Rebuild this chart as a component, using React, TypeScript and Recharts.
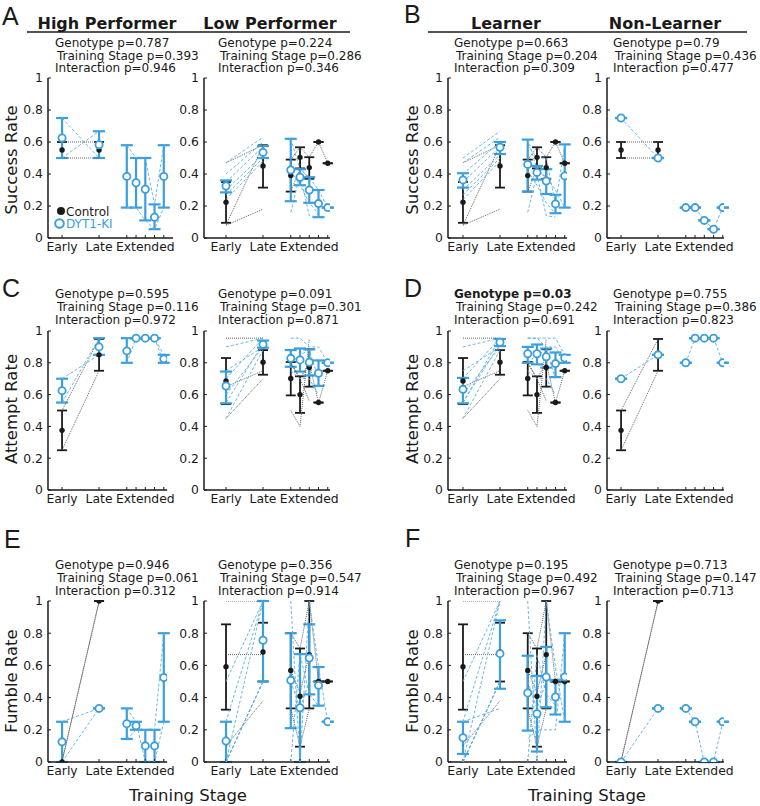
import React from "react";
import { ComposedChart, Scatter, XAxis, YAxis, ErrorBar } from "recharts";

type Vals = (number | null)[];
interface Group {
  mean: Vals;
  lo: Vals;
  hi: Vals;
}
interface PanelData {
  ctrl: Group;
  ki: Group;
  ctrlMice: Vals[];
  kiMice: Vals[];
}

const BLUE = "#3b9fdc";
const BLUE_THIN = "#5aaee3";
const INK = "#1a1a1a";
const FONT = "'DejaVu Sans', sans-serif";
const N = null;

// x positions: Early, Late and the five extended sessions
const STAGE_X = [1, 2, 2.75, 3, 3.25, 3.5, 3.75];
const STAGE_LABELS = ["Early", "Late", "", "", "Extended", "", ""];
const RATE_TICKS = [0, 0.2, 0.4, 0.6, 0.8, 1];

// a group with one animal has no spread
const single = (v: Vals): Group => ({ mean: v, lo: v, hi: v });

// ---- Success rate ----
const successHigh: PanelData = {
  ctrl: {
    mean: [0.55, 0.55, N, N, N, N, N],
    lo: [0.5, 0.5, N, N, N, N, N],
    hi: [0.6, 0.6, N, N, N, N, N],
  },
  ki: {
    mean: [0.625, 0.583, 0.385, 0.345, 0.305, 0.13, 0.385],
    lo: [0.5, 0.5, 0.19, 0.19, 0.11, 0.055, 0.19],
    hi: [0.75, 0.667, 0.58, 0.5, 0.5, 0.21, 0.58],
  },
  ctrlMice: [[0.6, 0.6], [0.5, 0.5]],
  kiMice: [
    [0.75, 0.5, 0.19, 0.19, 0.11, 0.055, 0.19],
    [0.5, 0.667, 0.58, 0.5, 0.5, 0.21, 0.58],
  ],
};

const successLow: PanelData = {
  ctrl: {
    mean: [0.223, 0.45, 0.39, 0.504, 0.44, 0.6, 0.467],
    lo: [0.095, 0.315, 0.29, 0.435, 0.37, 0.6, 0.467],
    hi: [0.35, 0.58, 0.49, 0.567, 0.505, 0.6, 0.467],
  },
  ki: {
    mean: [0.325, 0.535, 0.425, 0.38, 0.3, 0.215, 0.19],
    lo: [0.285, 0.5, 0.23, 0.33, 0.22, 0.13, 0.19],
    hi: [0.36, 0.575, 0.62, 0.43, 0.38, 0.3, 0.19],
  },
  ctrlMice: [
    [0.47, 0.58, 0.49, 0.567, 0.505, 0.6, 0.467],
    [0.08, 0.58, 0.29, 0.435, 0.37],
    [0.08, 0.18],
  ],
  kiMice: [
    [0.47, 0.63, 0.62, 0.43, 0.38, 0.3, 0.19],
    [0.4, 0.6, 0.16, 0.4, 0.14, 0.13],
    [0.35, 0.57, 0.42, 0.33, 0.22, 0.15],
    [0.3, 0.52],
    [0.27, 0.5],
    [0.24, 0.48],
  ],
};

const successLearner: PanelData = {
  ctrl: successLow.ctrl,
  ki: {
    mean: [0.363, 0.567, 0.46, 0.41, 0.356, 0.213, 0.388],
    lo: [0.315, 0.525, 0.29, 0.365, 0.275, 0.155, 0.19],
    hi: [0.405, 0.6, 0.615, 0.45, 0.43, 0.27, 0.585],
  },
  ctrlMice: successLow.ctrlMice,
  kiMice: [...successLow.kiMice, [0.5, 0.667, 0.58, 0.5, 0.5, 0.21, 0.58]],
};

const successNonLearner: PanelData = {
  ctrl: successHigh.ctrl,
  ki: single([0.75, 0.5, 0.19, 0.19, 0.11, 0.055, 0.19]),
  ctrlMice: successHigh.ctrlMice,
  kiMice: [[0.75, 0.5, 0.19, 0.19, 0.11, 0.055, 0.19]],
};

// ---- Attempt rate ----
const attemptHigh: PanelData = {
  ctrl: {
    mean: [0.375, 0.85, N, N, N, N, N],
    lo: [0.25, 0.75, N, N, N, N, N],
    hi: [0.5, 0.95, N, N, N, N, N],
  },
  ki: {
    mean: [0.625, 0.9, 0.875, 0.955, 0.955, 0.955, 0.825],
    lo: [0.55, 0.85, 0.8, 0.955, 0.955, 0.955, 0.8],
    hi: [0.7, 0.955, 0.955, 0.955, 0.955, 0.955, 0.85],
  },
  ctrlMice: [[0.5, 0.95], [0.25, 0.75]],
  kiMice: [
    [0.7, 0.85, 0.8, 0.955, 0.955, 0.955, 0.8],
    [0.55, 0.955, 0.955, 0.955, 0.955, 0.955, 0.85],
  ],
};

const attemptLow: PanelData = {
  ctrl: {
    mean: [0.686, 0.803, 0.702, 0.6, 0.77, 0.55, 0.75],
    lo: [0.54, 0.725, 0.595, 0.485, 0.65, 0.55, 0.75],
    hi: [0.83, 0.88, 0.805, 0.715, 0.885, 0.55, 0.75],
  },
  ki: {
    mean: [0.654, 0.916, 0.828, 0.818, 0.803, 0.734, 0.8],
    lo: [0.545, 0.895, 0.775, 0.745, 0.72, 0.655, 0.8],
    hi: [0.745, 0.94, 0.88, 0.89, 0.885, 0.815, 0.8],
  },
  ctrlMice: [
    [0.955, 0.955, 0.8, 0.7, 0.8, 0.55, 0.75],
    [0.65, 0.75, 0.8, 0.7, 0.56],
    [0.45, 0.7, 0.5, 0.4, 0.95],
  ],
  kiMice: [
    [0.9, 0.955, 0.955, 0.955, 0.9, 0.9, 0.8],
    [0.75, 0.9, 0.8, 0.85, 0.88, 0.7],
    [0.7, 0.955, 0.75, 0.7, 0.7, 0.6],
    [0.6, 0.9],
    [0.55, 0.92],
    [0.45, 0.88],
  ],
};

const attemptLearner: PanelData = {
  ctrl: attemptLow.ctrl,
  ki: {
    mean: [0.633, 0.929, 0.857, 0.857, 0.838, 0.795, 0.83],
    lo: [0.545, 0.905, 0.8, 0.79, 0.77, 0.71, 0.8],
    hi: [0.705, 0.95, 0.9, 0.915, 0.89, 0.865, 0.85],
  },
  ctrlMice: attemptLow.ctrlMice,
  kiMice: [...attemptLow.kiMice, [0.55, 0.955, 0.955, 0.955, 0.955, 0.955, 0.85]],
};

const attemptNonLearner: PanelData = {
  ctrl: attemptHigh.ctrl,
  ki: single([0.7, 0.85, 0.8, 0.955, 0.955, 0.955, 0.8]),
  ctrlMice: attemptHigh.ctrlMice,
  kiMice: [[0.7, 0.85, 0.8, 0.955, 0.955, 0.955, 0.8]],
};

// ---- Fumble rate ----
const fumbleHigh: PanelData = {
  ctrl: single([0, 1, N, N, N, N, N]),
  ki: {
    mean: [0.125, 0.333, 0.238, 0.225, 0.1, 0.1, 0.525],
    lo: [0, 0.333, 0.143, 0.2, 0, 0, 0.25],
    hi: [0.25, 0.333, 0.333, 0.25, 0.2, 0.2, 0.8],
  },
  ctrlMice: [[0, 1], [0.008, 0.992]],
  kiMice: [
    [0, 0.333, 0.333, 0.25, 0, 0, 0.25],
    [0.25, 0.333, 0.143, 0.2, 0.2, 0.2, 0.8],
  ],
};

const fumbleLow: PanelData = {
  ctrl: {
    mean: [0.592, 0.683, 0.569, 0.408, 0.667, 0.5, 0.5],
    lo: [0.325, 0.5, 0.333, 0.095, 0.333, 0.5, 0.5],
    hi: [0.855, 0.865, 0.8, 0.705, 1, 0.5, 0.5],
  },
  ki: {
    mean: [0.13, 0.756, 0.507, 0.337, 0.646, 0.476, 0.25],
    lo: [0, 0.5, 0.21, 0, 0.42, 0.35, 0.25],
    hi: [0.25, 1, 0.8, 0.67, 0.855, 0.59, 0.25],
  },
  ctrlMice: [
    [1, 1, 0.8, 0.705, 1, 0.5, 0.5],
    [0.667, 0.667, 0.333, 0.095, 0.333],
    [0.1, 0.38, 0.57, 0.43, 0.667],
  ],
  kiMice: [
    [0.5, 1, 1, 0, 1, 0.59, 0.25],
    [0.25, 1, 0, 0.67, 0.42, 0.35],
    [0, 0.5, 0.5, 0.333, 0.5, 0.5],
    [0, 1],
    [0, 0.5],
    [0, 0.5],
  ],
};

const fumbleLearner: PanelData = {
  ctrl: fumbleLow.ctrl,
  ki: {
    mean: [0.151, 0.673, 0.429, 0.3, 0.528, 0.404, 0.528],
    lo: [0.05, 0.455, 0.195, 0.065, 0.34, 0.295, 0.25],
    hi: [0.25, 0.88, 0.66, 0.535, 0.715, 0.51, 0.8],
  },
  ctrlMice: fumbleLow.ctrlMice,
  kiMice: [...fumbleLow.kiMice, [0.25, 0.333, 0.143, 0.2, 0.2, 0.2, 0.8]],
};

const fumbleNonLearner: PanelData = {
  ctrl: fumbleHigh.ctrl,
  ki: single([0, 0.333, 0.333, 0.25, 0, 0, 0.25]),
  ctrlMice: fumbleHigh.ctrlMice,
  kiMice: [[0, 0.333, 0.333, 0.25, 0, 0, 0.25]],
};

const PANELS: PanelData[][] = [
  [successHigh, successLow, successLearner, successNonLearner],
  [attemptHigh, attemptLow, attemptLearner, attemptNonLearner],
  [fumbleHigh, fumbleLow, fumbleLearner, fumbleNonLearner],
];

// ANOVA p-values, row by row, columns High / Low / Learner / Non-Learner
const GENOTYPE_P = [
  ["0.787", "0.224", "0.663", "0.79"],
  ["0.595", "0.091", "0.03", "0.755"],
  ["0.946", "0.356", "0.195", "0.713"],
];
const STAGE_P = [
  ["0.393", "0.286", "0.204", "0.436"],
  ["0.116", "0.301", "0.242", "0.386"],
  ["0.061", "0.547", "0.492", "0.147"],
];
const INTERACTION_P = [
  ["0.946", "0.346", "0.309", "0.477"],
  ["0.972", "0.871", "0.691", "0.823"],
  ["0.312", "0.914", "0.967", "0.713"],
];

const GROUP_TITLES = ["High Performer", "Low Performer", "Learner", "Non-Learner"];
const RATE_TITLES = ["Success Rate", "Attempt Rate", "Fumble Rate"];
const PANEL_LETTERS = ["A", "B", "C", "D", "E", "F"];

// layout
const PX_PER_STAGE = 37;
const Y_AXIS_W = 32;
const X_AXIS_H = 24;
const COL_AXIS_X = [48, 204, 448, 607];
const COL_TEXT_X = [55, 218, 454, 613];
const X_LO = [0.62, 0.405, 0.595, 0.62];
const X_HI = [
  [4.0, 3.81, 3.81, 3.78],
  [3.84, 3.81, 3.81, 3.78],
  [3.84, 3.81, 3.81, 3.78],
];
const ROW_TOP = [78, 331, 601];
const ROW_H = [160, 159, 161];
const ROW_P_BASE = [46.7, 298.3, 569];
const ROW_LABEL_Y = [160, 409, 681];
const LETTER_POS = [
  [2, 25],
  [404, 23],
  [2, 297],
  [404, 297],
  [4, 548],
  [405, 547],
];

function meanPoints(g: Group) {
  const pts: { x: number; y: number; err: number[] }[] = [];
  STAGE_X.forEach((x, i) => {
    const m = g.mean[i];
    if (m == null) return;
    const lo = g.lo[i] ?? m;
    const hi = g.hi[i] ?? m;
    pts.push({ x, y: m, err: [m - lo, hi - m] });
  });
  return pts;
}

// each animal is drawn as two pieces: Early-Late and the extended sessions
function mouseSegments(v: Vals) {
  const pick = (idx: number[]) =>
    idx
      .filter((i) => v[i] != null && v[i] !== undefined)
      .map((i) => ({ x: STAGE_X[i], y: v[i] as number }));
  return [pick([0, 1]), pick([2, 3, 4, 5, 6])].filter((s) => s.length > 1);
}

const NoMark = () => <g />;
const ControlDot = (p: any) => <circle cx={p.cx} cy={p.cy} r={2.7} fill={INK} />;
const KiRing = (p: any) => (
  <circle cx={p.cx} cy={p.cy} r={3.6} fill="#fff" stroke={BLUE} strokeWidth={1.8} />
);

function RatePanel({
  data,
  left,
  top,
  height,
  lo,
  hi,
}: {
  data: PanelData;
  left: number;
  top: number;
  height: number;
  lo: number;
  hi: number;
}) {
  const plotW = (hi - lo) * PX_PER_STAGE;
  const width = Y_AXIS_W + plotW + 10;
  const ctrlSegs = data.ctrlMice.flatMap(mouseSegments);
  const kiSegs = data.kiMice.flatMap(mouseSegments);

  return (
    <div style={{ position: "absolute", left: left - Y_AXIS_W, top: top - 10 }}>
      <ComposedChart
        width={width}
        height={height + 10 + X_AXIS_H}
        margin={{ top: 10, right: 10, bottom: 0, left: 0 }}
      >
        <XAxis
          type="number"
          dataKey="x"
          domain={[lo, hi]}
          allowDataOverflow
          ticks={STAGE_X}
          interval={0}
          tickFormatter={(v: number) => STAGE_LABELS[STAGE_X.indexOf(v)] ?? ""}
          height={X_AXIS_H}
          tickSize={-3}
          tickMargin={7}
          axisLine={{ stroke: INK, strokeWidth: 1.5 }}
          tickLine={{ stroke: INK, strokeWidth: 1 }}
          tick={{ fontSize: 12.4, fill: INK, fontFamily: FONT }}
        />
        <YAxis
          type="number"
          dataKey="y"
          domain={[0, 1]}
          allowDataOverflow
          ticks={RATE_TICKS}
          interval={0}
          width={Y_AXIS_W}
          tickSize={-3}
          tickMargin={8}
          axisLine={{ stroke: INK, strokeWidth: 1.5 }}
          tickLine={{ stroke: INK, strokeWidth: 1 }}
          tick={{ fontSize: 12.4, fill: INK, fontFamily: FONT }}
        />
        {ctrlSegs.map((seg, i) => (
          <Scatter
            key={`c${i}`}
            data={seg}
            shape={NoMark}
            line={{ stroke: "#555", strokeWidth: 0.9, strokeDasharray: "1 1" }}
            isAnimationActive={false}
          />
        ))}
        {kiSegs.map((seg, i) => (
          <Scatter
            key={`k${i}`}
            data={seg}
            shape={NoMark}
            line={{ stroke: BLUE_THIN, strokeWidth: 0.9, strokeDasharray: "3 2" }}
            isAnimationActive={false}
          />
        ))}
        <Scatter data={meanPoints(data.ctrl)} shape={ControlDot} isAnimationActive={false}>
          <ErrorBar dataKey="err" direction="y" width={5} stroke={INK} strokeWidth={1.8} />
        </Scatter>
        <Scatter data={meanPoints(data.ki)} shape={KiRing} isAnimationActive={false}>
          <ErrorBar dataKey="err" direction="y" width={6} stroke={BLUE} strokeWidth={2.2} />
        </Scatter>
      </ComposedChart>
    </div>
  );
}

function Annotations() {
  return (
    <svg
      width={760}
      height={806}
      style={{ position: "absolute", left: 0, top: 0, pointerEvents: "none" }}
      fontFamily={FONT}
      fill={INK}
    >
      {PANEL_LETTERS.map((l, i) => (
        <text
          key={l}
          x={LETTER_POS[i][0]}
          y={LETTER_POS[i][1]}
          fontSize={25}
          fontFamily="'Liberation Sans', Arial, sans-serif"
        >
          {l}
        </text>
      ))}

      {GROUP_TITLES.map((t, c) => (
        <text
          key={t}
          x={[107, 270, 506, 665][c]}
          y={29}
          fontSize={16}
          fontWeight="bold"
          textAnchor="middle"
        >
          {t}
        </text>
      ))}
      <line x1={27} x2={350} y1={32} y2={32} stroke={INK} strokeWidth={1.5} />
      <line x1={428} x2={747} y1={32} y2={32} stroke={INK} strokeWidth={1.5} />

      {ROW_P_BASE.map((base, r) =>
        COL_TEXT_X.map((x, c) => (
          <g key={`p${r}${c}`} fontSize={12}>
            <text
              x={x}
              y={base}
              fontWeight={parseFloat(GENOTYPE_P[r][c]) < 0.05 ? "bold" : "normal"}
            >
              {`Genotype p=${GENOTYPE_P[r][c]}`}
            </text>
            <text x={x + 2} y={base + 12.8}>
              {`Training Stage p=${STAGE_P[r][c]}`}
            </text>
            <text x={x} y={base + 25.6}>
              {`Interaction p=${INTERACTION_P[r][c]}`}
            </text>
          </g>
        ))
      )}

      {RATE_TITLES.map((t, r) =>
        [11, 412].map((x) => (
          <text
            key={`${t}${x}`}
            x={x}
            y={ROW_LABEL_Y[r]}
            fontSize={16.5}
            textAnchor="middle"
            dominantBaseline="central"
            transform={`rotate(-90 ${x} ${ROW_LABEL_Y[r]})`}
          >
            {t}
          </text>
        ))
      )}

      {[188, 587].map((x) => (
        <text key={`ts${x}`} x={x} y={801} fontSize={16.5} textAnchor="middle">
          Training Stage
        </text>
      ))}

      <circle cx={61} cy={211} r={4} fill={INK} />
      <text x={66} y={215.5} fontSize={12}>
        Control
      </text>
      <circle cx={59.5} cy={223.5} r={4.3} fill="#fff" stroke={BLUE} strokeWidth={2} />
      <text x={66} y={228} fontSize={12} fill={BLUE}>
        DYT1-KI
      </text>
    </svg>
  );
}

export default function App() {
  return (
    <div
      style={{
        position: "absolute",
        left: 0,
        top: 0,
        width: 760,
        height: 806,
        background: "#fff",
        overflow: "hidden",
      }}
    >
      {PANELS.map((row, r) =>
        row.map((data, c) => (
          <RatePanel
            key={`${r}-${c}`}
            data={data}
            left={COL_AXIS_X[c]}
            top={ROW_TOP[r]}
            height={ROW_H[r]}
            lo={X_LO[c]}
            hi={X_HI[r][c]}
          />
        ))
      )}
      <Annotations />
    </div>
  );
}
